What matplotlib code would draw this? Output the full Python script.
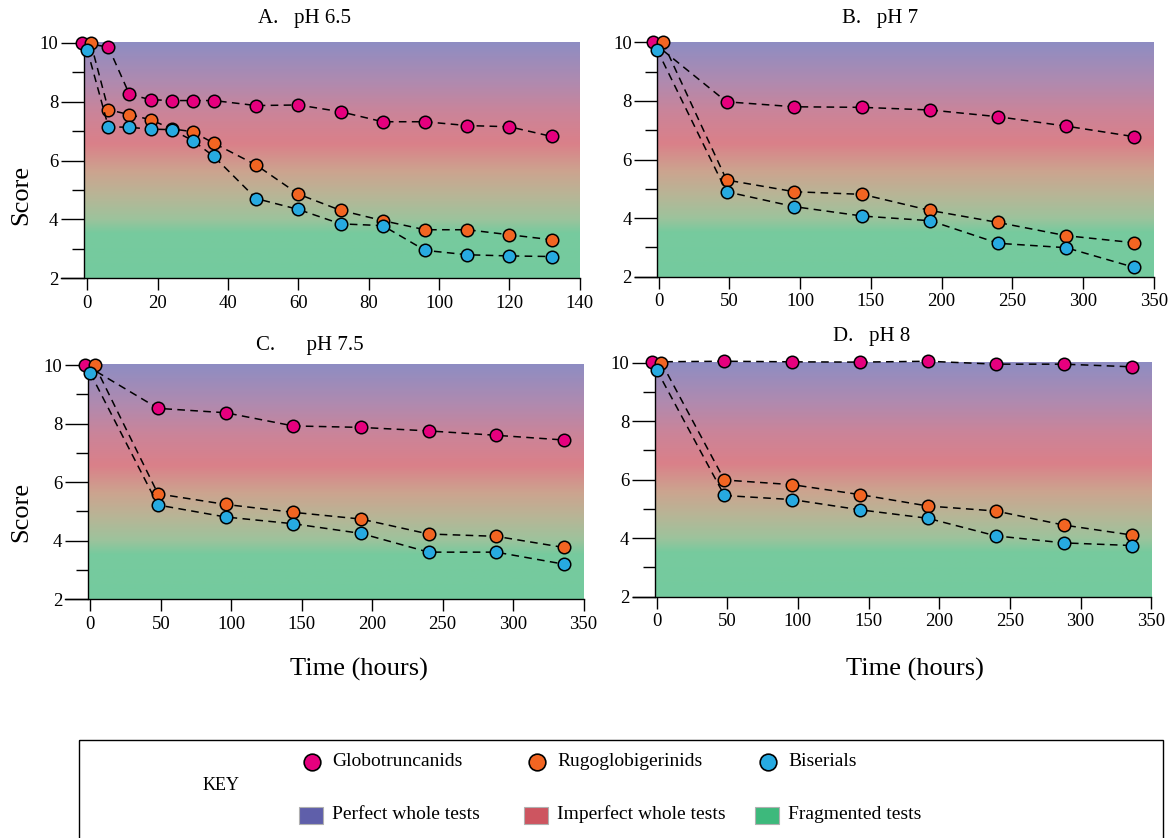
import numpy as np
import matplotlib
matplotlib.use("Agg")
import matplotlib.pyplot as plt
from matplotlib.colors import LinearSegmentedColormap
from matplotlib.patches import Rectangle

plt.rcParams['font.family'] = ['Liberation Serif', 'DejaVu Serif']

# ---------------- data ----------------
series_names = ["Globotruncanids", "Rugoglobigerinids", "Biserials"]
series_colors = ["#E6007E", "#F26522", "#27AAE1"]

# A. pH 6.5
a_time = [6, 12, 18, 24, 30, 36, 48, 60, 72, 84, 96, 108, 120, 132]
a_start = [-1.5, 1, 0]
a_glob = [10, 9.86, 8.25, 8.07, 8.04, 8.04, 8.04, 7.87, 7.89, 7.66, 7.32, 7.32, 7.19, 7.15, 6.82]
a_rugo = [10, 7.73, 7.56, 7.39, 7.08, 6.98, 6.59, 5.85, 4.86, 4.31, 3.96, 3.65, 3.65, 3.48, 3.31]
a_bis = [9.77, 7.15, 7.13, 7.07, 7.05, 6.68, 6.14, 4.71, 4.34, 3.85, 3.79, 2.95, 2.80, 2.76, 2.74]

# B-D share the sampling times
t_long = [48, 96, 144, 192, 240, 288, 336]

b_start = [-4, 3, -1]
b_glob = [10, 7.97, 7.80, 7.78, 7.69, 7.46, 7.14, 6.78]
b_rugo = [10, 5.30, 4.90, 4.81, 4.26, 3.85, 3.40, 3.16]
b_bis = [9.74, 4.90, 4.39, 4.07, 3.91, 3.14, 2.99, 2.32]

c_start = [-3.5, 3, 0]
c_glob = [10, 8.52, 8.37, 7.92, 7.87, 7.75, 7.60, 7.44]
c_rugo = [10, 5.60, 5.24, 4.97, 4.74, 4.23, 4.15, 3.77]
c_bis = [9.72, 5.22, 4.81, 4.58, 4.25, 3.61, 3.61, 3.20]

d_start = [-3, 3.5, 0]
d_glob = [10.03, 10.05, 10.03, 10.02, 10.05, 9.95, 9.95, 9.86]
d_rugo = [10, 5.99, 5.83, 5.49, 5.10, 4.93, 4.45, 4.11]
d_bis = [9.76, 5.46, 5.32, 4.97, 4.68, 4.08, 3.84, 3.75]

key_names = ["Perfect whole tests", "Imperfect whole tests", "Fragmented tests"]
key_colors = ["#5F5FAA", "#CD5560", "#3DB97C"]

# background gradient (score 2 -> 10)
grad = LinearSegmentedColormap.from_list("tests", [
    (0.0, "#74CB9E"), (0.19, "#77CA9E"), (0.25, "#9DC39C"), (0.35, "#B8B596"),
    (0.45, "#CCA48F"), (0.57, "#DA8089"), (0.70, "#CB8499"), (0.83, "#B08AAF"),
    (1.0, "#8E8DC3")])

W, H = 1169, 838
fig = plt.figure(figsize=(W / 100, H / 100), dpi=100)


def px_axes(l, r, b, t):
    return fig.add_axes([l / W, 1 - b / H, (r - l) / W, (b - t) / H])


def panel(box, xlim, spine_x, xticks, title, title_xy, start, ys, times):
    ax = px_axes(*box)
    ax.patch.set_visible(False)
    ax.imshow(np.linspace(0, 1, 256)[:, None], cmap=grad, origin="lower",
              extent=(spine_x, xlim[1], 2, 10), aspect="auto", zorder=0)
    ax.set_xlim(xlim)
    ax.set_ylim(2, 10.4)
    for s in ["top", "right"]:
        ax.spines[s].set_visible(False)
    ax.spines["left"].set_position(("data", spine_x))
    ax.spines["left"].set_bounds(2, 10)
    ax.spines["left"].set_linewidth(1.0)
    ax.spines["bottom"].set_linewidth(1.0)
    ax.set_yticks([2, 4, 6, 8, 10])
    ax.set_yticks([3, 5, 7, 9], minor=True)
    ax.set_xticks(xticks)
    ax.tick_params(axis="y", which="major", direction="out", length=16.5,
                   width=1.0, pad=2.0, labelsize=13.5)
    ax.tick_params(axis="y", which="minor", direction="out", length=8.3, width=1.0)
    ax.tick_params(axis="x", direction="out", length=8.5, width=1.0, pad=3.5,
                   labelsize=13.5)
    for k in range(3):
        x = [start[k]] + list(times)
        ax.plot(x, ys[k], color="black", lw=1.1, ls=(0, (5, 3.5)),
                marker="o", ms=9, mfc=series_colors[k], mec="black", mew=1.1,
                clip_on=False, zorder=3 + k)
    fig.text(title_xy[0] / W, 1 - title_xy[1] / H, title, ha="center",
             va="center", fontsize=15)
    return ax


panel((61.2, 579.8, 278.3, 31.1), (-7.4, 140), -0.9, range(0, 141, 20),
      "A.   pH 6.5", (305, 19), a_start, [a_glob, a_rugo, a_bis], a_time)
panel((635, 1153.9, 276.7, 30.6), (-16.7, 350), -0.8, range(0, 351, 50),
      "B.   pH 7", (880, 19), b_start, [b_glob, b_rugo, b_bis], t_long)
panel((65, 583.6, 599.3, 353.3), (-18, 350), -1.6, range(0, 351, 50),
      "C.      pH 7.5", (310, 345), c_start, [c_glob, c_rugo, c_bis], t_long)
panel((632.5, 1151.3, 596.7, 351), (-17, 350), -1.0, range(0, 351, 50),
      "D.   pH 8", (872, 336), d_start, [d_glob, d_rugo, d_bis], t_long)

fig.text(21 / W, 1 - 195 / H, "Score", rotation=90, ha="center", va="center", fontsize=19)
fig.text(21 / W, 1 - 512 / H, "Score", rotation=90, ha="center", va="center", fontsize=19)
fig.text(359 / W, 1 - 669 / H, "Time (hours)", ha="center", va="center", fontsize=19)
fig.text(915 / W, 1 - 669 / H, "Time (hours)", ha="center", va="center", fontsize=19)

# ---------------- key box ----------------
kx = fig.add_axes([0, 0, 1, 1])
kx.set_xlim(0, W)
kx.set_ylim(H, 0)
kx.axis("off")
kx.add_patch(Rectangle((79, 740), 1163 - 79, 130, fill=False, ec="black", lw=1.0, clip_on=False))
kx.text(203, 785, "KEY", fontsize=13, va="center", ha="left")
for x_c, name, col in zip([312, 537, 768], series_names, series_colors):
    kx.plot(x_c, 762, "o", ms=12, mfc=col, mec="black", mew=1.2)
    kx.text(x_c + 20, 761, name, fontsize=14, va="center", ha="left")
for x_s, name, col in zip([299, 524, 755], key_names, key_colors):
    kx.add_patch(Rectangle((x_s, 807), 24, 17, fc=col, ec="#B0B0B0", lw=0.8))
    kx.text(x_s + 33, 814, name, fontsize=14, va="center", ha="left")

fig.savefig("out.png", dpi=100)
